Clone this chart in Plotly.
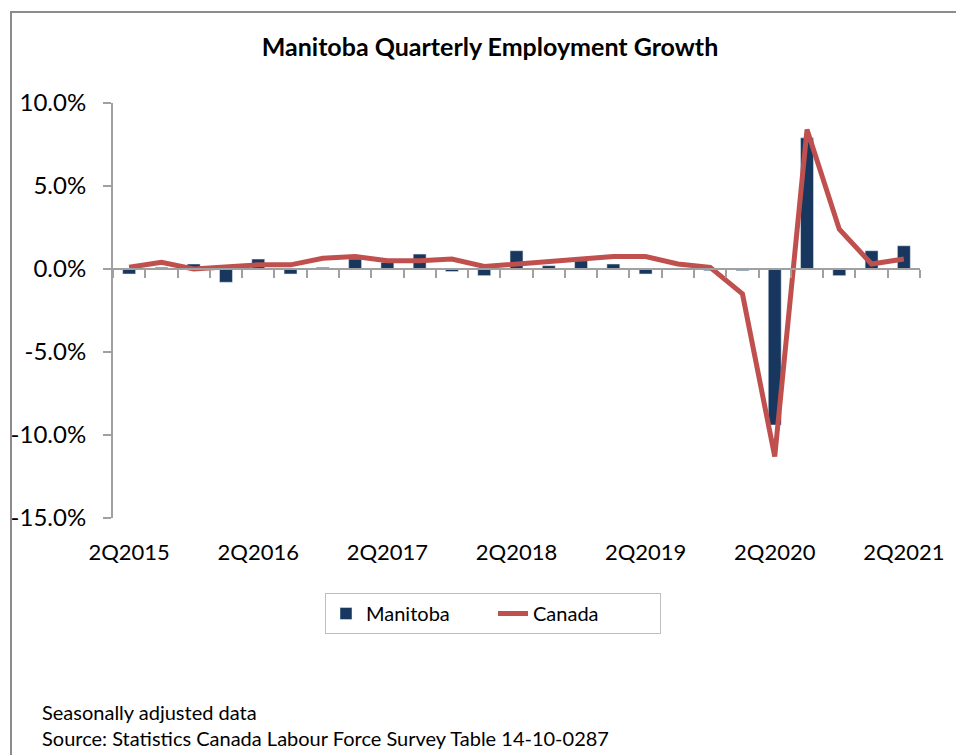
import plotly.graph_objects as go

quarters = ["2Q2015", "3Q2015", "4Q2015", "1Q2016", "2Q2016", "3Q2016", "4Q2016", "1Q2017",
            "2Q2017", "3Q2017", "4Q2017", "1Q2018", "2Q2018", "3Q2018", "4Q2018", "1Q2019",
            "2Q2019", "3Q2019", "4Q2019", "1Q2020", "2Q2020", "3Q2020", "4Q2020", "1Q2021",
            "2Q2021"]
manitoba = [-0.3, 0.1, 0.3, -0.8, 0.6, -0.3, 0.1, 0.6, 0.4, 0.9, -0.15, -0.4, 1.1,
            0.2, 0.5, 0.3, -0.3, 0.05, -0.1, -0.1, -9.4, 7.9, -0.4, 1.1, 1.4]
canada = [0.1, 0.4, 0.0, 0.1, 0.25, 0.25, 0.65, 0.75, 0.5, 0.5, 0.6, 0.15, 0.3,
          0.5, 0.6, 0.75, 0.75, 0.3, 0.1, -1.5, -11.3, 8.4, 2.4, 0.3, 0.6]
y_ticks = [-15, -10, -5, 0, 5, 10]
y_ticktext = [f"{v:.1f}%" for v in y_ticks]
label_idx = list(range(0, len(quarters), 4))

FONT = "Lato"
xs = list(range(len(quarters)))

fig = go.Figure()
fig.add_trace(go.Bar(x=xs, y=manitoba, name="Manitoba", marker_color="#17375E",
                     width=0.4, xaxis="x", yaxis="y"))
fig.add_trace(go.Scatter(x=xs, y=canada, name="Canada", mode="lines",
                         line=dict(color="#C0504D", width=5), xaxis="x2", yaxis="y"))

W, H = 956, 755
L, R, T, B = 113, 36, 103, 237
pw, ph = W - L - R, H - T - B

def px(x):
    return (x - L) / pw

def py(y):
    return (H - B - y) / ph

ymin, ymax = y_ticks[0], y_ticks[-1]
xr = [-0.5, len(quarters) - 0.5]

fig.update_layout(
    width=W, height=H,
    margin=dict(l=L, r=R, t=T, b=B, autoexpand=False),
    paper_bgcolor="white", plot_bgcolor="white",
    font=dict(family=FONT, color="black"),
    title=dict(text="<b>Manitoba Quarterly Employment Growth</b>", xref="container",
               x=490 / W, xanchor="center", y=1 - 47 / H, yanchor="middle",
               font=dict(size=25, family=FONT)),
    showlegend=True,
    legend=dict(orientation="h", x=px(493), xanchor="center", y=py(593), yanchor="top",
                bordercolor="#BFBFBF", borderwidth=1, font=dict(size=20, family=FONT),
                entrywidth=122, bgcolor="white"),
    xaxis=dict(range=xr, tickmode="array", tickvals=label_idx, automargin=False,
               ticktext=[quarters[i] for i in label_idx], showline=False, showgrid=False,
               zeroline=False, ticks="outside", ticklen=15, tickcolor="rgba(0,0,0,0)",
               tickfont=dict(size=22, family=FONT)),
    xaxis2=dict(range=xr, overlaying="x", anchor="free", automargin=False,
                position=(0 - ymin) / (ymax - ymin), showline=True, linecolor="#A0A0A0",
                linewidth=2, tickmode="linear", tick0=-0.5, dtick=1, ticks="outside",
                ticklen=8, tickwidth=2, tickcolor="#A0A0A0", showticklabels=False,
                showgrid=False, zeroline=False),
    yaxis=dict(range=[ymin, ymax], domain=[0, 1], tickmode="array", tickvals=y_ticks,
               ticktext=y_ticktext, showline=True, linecolor="#A0A0A0", linewidth=2,
               ticks="outside", ticklen=8, tickwidth=2, tickcolor="#A0A0A0", automargin=False,
               showgrid=False, zeroline=False, tickfont=dict(size=24, family=FONT),
               ticklabelstandoff=12),
    barmode="overlay",
    shapes=[dict(type="rect", xref="paper", yref="paper", x0=px(11), x1=px(970),
                 y0=py(12), y1=py(770), line=dict(color="#8C8C8C", width=2))],
    annotations=[
        dict(text="Seasonally adjusted data", xref="paper", yref="paper", x=px(40), y=py(712),
             xanchor="left", yanchor="middle", showarrow=False, font=dict(size=20, family=FONT)),
        dict(text="Source: Statistics Canada Labour Force Survey Table 14-10-0287", xref="paper",
             yref="paper", x=px(40), y=py(738), xanchor="left", yanchor="middle",
             showarrow=False, font=dict(size=20, family=FONT)),
    ],
)

fig.write_html("out.html")
